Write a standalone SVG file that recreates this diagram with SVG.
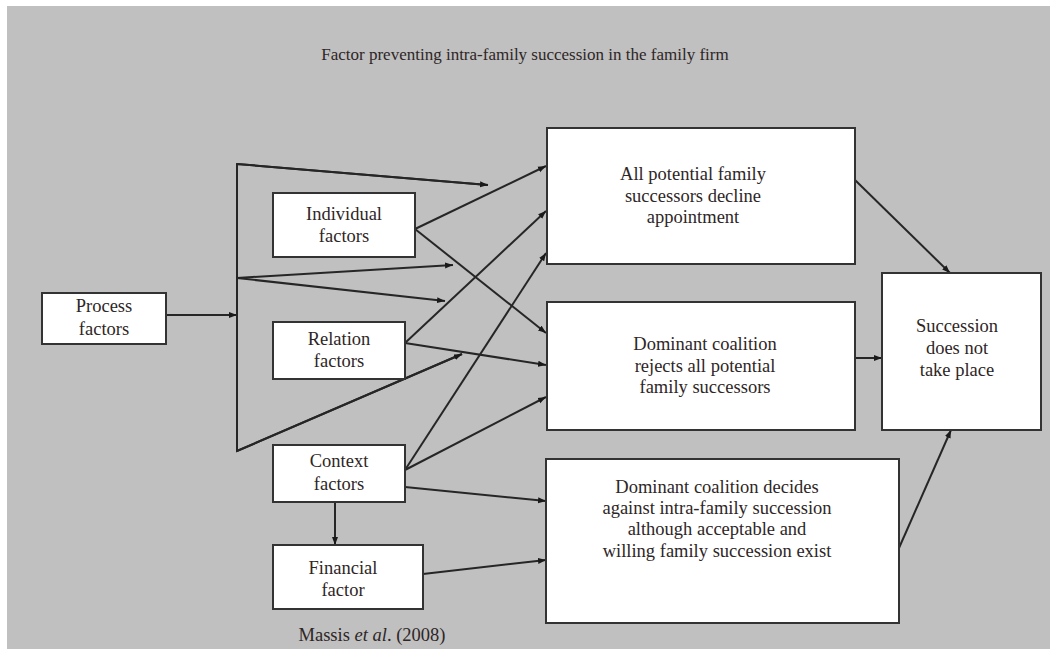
<svg xmlns="http://www.w3.org/2000/svg" width="1050" height="649" viewBox="0 0 1050 649">
<style>
.bg{fill:#c0c0c0}
.box{fill:#ffffff;stroke:#333333;stroke-width:2}
.t{font-family:"Liberation Serif","Times New Roman",serif;font-size:18.5px;fill:#2e2626;text-anchor:middle}
.title{font-family:"Liberation Serif","Times New Roman",serif;font-size:17px;fill:#2e2626;text-anchor:middle}
.c{fill:none;stroke:#262626;stroke-width:2}
.a{marker-end:url(#arr)}
</style>
<defs>
<marker id="arr" markerUnits="userSpaceOnUse" markerWidth="9" markerHeight="7" refX="8" refY="3.5" orient="auto">
<path d="M0,0.5 L8,3.5 L0,6.5 z" fill="#1a1a1a"/>
</marker>
</defs>
<rect x="0" y="0" width="1050" height="649" fill="#ffffff"/>
<rect class="bg" x="7" y="6" width="1043" height="643"/>
<text class="title" x="525" y="60">Factor preventing intra-family succession in the family firm</text>

<g id="connectors">
<line class="c a" x1="166" y1="315" x2="237" y2="315"/>
<polyline class="c" points="488,185 237,164 237,451 462,354"/>
<line class="c a" x1="237" y1="164" x2="488" y2="185"/>
<line class="c a" x1="237" y1="451" x2="462" y2="354"/>
<line class="c a" x1="237" y1="278" x2="453" y2="265"/>
<line class="c a" x1="237" y1="278" x2="445" y2="301"/>
<line class="c a" x1="415" y1="229" x2="546" y2="166"/>
<line class="c a" x1="415" y1="229" x2="546" y2="333"/>
<line class="c a" x1="405" y1="343" x2="546" y2="211"/>
<line class="c a" x1="405" y1="343" x2="546" y2="365"/>
<line class="c a" x1="405" y1="470" x2="546" y2="253"/>
<line class="c a" x1="405" y1="470" x2="546" y2="397"/>
<line class="c a" x1="405" y1="487" x2="546" y2="501"/>
<line class="c a" x1="335" y1="502" x2="335" y2="545"/>
<line class="c a" x1="423" y1="574" x2="546" y2="560"/>
<line class="c a" x1="855" y1="180" x2="950" y2="273"/>
<line class="c a" x1="855" y1="358" x2="882" y2="358"/>
<line class="c a" x1="899" y1="548" x2="951" y2="430"/>
</g>

<g id="process">
<rect class="box" x="42" y="293" width="124" height="51"/>
<text class="t" x="104" y="312">Process</text>
<text class="t" x="104" y="335">factors</text>
</g>
<g id="individual">
<rect class="box" x="273" y="193" width="142" height="64"/>
<text class="t" x="344" y="220">Individual</text>
<text class="t" x="344" y="242">factors</text>
</g>
<g id="relation">
<rect class="box" x="273" y="322" width="132" height="57"/>
<text class="t" x="339" y="345">Relation</text>
<text class="t" x="339" y="367">factors</text>
</g>
<g id="context">
<rect class="box" x="273" y="445" width="132" height="57"/>
<text class="t" x="339" y="467">Context</text>
<text class="t" x="339" y="490">factors</text>
</g>
<g id="financial">
<rect class="box" x="273" y="545" width="150" height="64"/>
<text class="t" x="343" y="574">Financial</text>
<text class="t" x="343" y="596">factor</text>
</g>
<g id="decline">
<rect class="box" x="547" y="128" width="308" height="136"/>
<text class="t" x="693" y="180">All potential family</text>
<text class="t" x="693" y="202">successors decline</text>
<text class="t" x="693" y="223">appointment</text>
</g>
<g id="rejects">
<rect class="box" x="547" y="302" width="308" height="128"/>
<text class="t" x="705" y="350">Dominant coalition</text>
<text class="t" x="705" y="372">rejects all potential</text>
<text class="t" x="705" y="393">family successors</text>
</g>
<g id="decides">
<rect class="box" x="546" y="459" width="353" height="164"/>
<text class="t" x="717" y="493">Dominant coalition decides</text>
<text class="t" x="717" y="514">against intra-family succession</text>
<text class="t" x="717" y="535">although acceptable and</text>
<text class="t" x="717" y="557">willing family succession  exist</text>
</g>
<g id="outcome">
<rect class="box" x="882" y="273" width="159" height="157"/>
<text class="t" x="957" y="332">Succession</text>
<text class="t" x="957" y="354">does not</text>
<text class="t" x="957" y="376">take place</text>
</g>
<text class="t" x="372" y="641">Massis <tspan font-style="italic">et al</tspan>. (2008)</text>
</svg>
